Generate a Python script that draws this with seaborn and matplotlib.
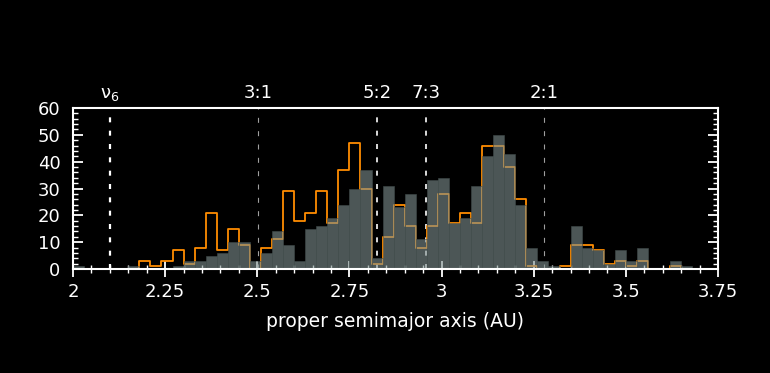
import numpy as np
import pandas as pd
import matplotlib
matplotlib.use("Agg")
import matplotlib.pyplot as plt
import matplotlib.transforms as mtransforms
import seaborn as sns
from matplotlib.ticker import MultipleLocator, FixedLocator, FixedFormatter

# ---- data ----
bin_start = 2.0
bin_width = 0.03
grey_counts = [1, 0, 0, 0, 0, 1, 0, 0, 0, 1,
               3, 3, 5, 6, 10, 10, 3, 6, 14, 9,
               3, 15, 16, 19, 24, 30, 37, 4, 31, 23,
               28, 11, 33, 34, 17, 19, 31, 42, 50, 43,
               24, 8, 3, 1, 0, 16, 8, 7, 2, 7,
               3, 8, 0, 0, 3, 1, 0, 0]
orange_counts = [0, 0, 0, 0, 0, 0, 3, 1, 3, 7,
                 2, 8, 21, 7, 15, 9, 0, 8, 11, 29,
                 18, 21, 29, 17, 37, 47, 30, 2, 12, 24,
                 16, 8, 16, 28, 17, 21, 17, 46, 46, 38,
                 26, 1, 0, 0, 1, 9, 9, 7, 2, 3,
                 1, 3, 0, 0, 1, 0, 0, 0]
res_labels = ["$\\mathrm{ν}_{6}$", "3:1", "5:2", "7:3", "2:1"]
res_pos = [2.10, 2.502, 2.825, 2.958, 3.278]
res_color = ["white", "#a0a0a0", "white", "white", "#a0a0a0"]
res_lw = [1.6, 0.8, 1.2, 1.2, 0.8]
x_ticks = [2.0, 2.25, 2.5, 2.75, 3.0, 3.25, 3.5, 3.75]
x_ticklabels = ["2", "2.25", "2.5", "2.75", "3", "3.25", "3.5", "3.75"]
y_ticks = [0, 10, 20, 30, 40, 50, 60]
x_label = "proper semimajor axis (AU)"

sns.set_style("ticks")
plt.rcParams["font.family"] = ["DejaVu Sans"]
plt.rcParams["mathtext.fontset"] = "dejavusans"

n = len(grey_counts)
edges = [float(e) for e in bin_start + bin_width * np.arange(n + 1)]
centers = [e + bin_width / 2 for e in edges[:-1]]
df = pd.DataFrame({"a": centers, "grey": grey_counts, "orange": orange_counts})

fig = plt.figure(figsize=(7.7, 3.73), dpi=100, facecolor="black")
ax = fig.add_axes([73 / 770, 104 / 373, 645 / 770, 161 / 373])
ax.set_facecolor("black")

sns.histplot(data=df, x="a", weights="orange", bins=edges, element="step",
             fill=False, color="#ff8c00", linewidth=1.3, ax=ax, zorder=2)
sns.histplot(data=df, x="a", weights="grey", bins=edges, element="bars",
             fill=True, color="#7f9190", alpha=0.6, edgecolor="#404b4a",
             linewidth=0.4, ax=ax, zorder=3)

for p, c, lw in zip(res_pos, res_color, res_lw):
    ax.axvline(p, color=c, linewidth=lw, linestyle=(0, (3.6 / lw, 6.0 / lw)),
               zorder=1.5)

trans = mtransforms.blended_transform_factory(ax.transData, ax.transAxes)
for p, lab in zip(res_pos, res_labels):
    ax.text(p, 1.062, lab, transform=trans, ha="center", va="baseline",
            color="white", fontsize=13)

ax.set_xlim(2.0, 3.75)
ax.set_ylim(0, 60)
ax.xaxis.set_major_locator(FixedLocator(x_ticks))
ax.xaxis.set_major_formatter(FixedFormatter(x_ticklabels))
ax.xaxis.set_minor_locator(MultipleLocator(0.05))
ax.yaxis.set_major_locator(FixedLocator(y_ticks))
ax.yaxis.set_minor_locator(MultipleLocator(2))

for s in ax.spines.values():
    s.set_visible(True)
    s.set_color("white")
    s.set_linewidth(1.5)
    s.set_zorder(4)

ax.tick_params(axis="x", which="major", direction="inout", length=11, width=1.3,
               colors="white", labelsize=13, pad=4.5, top=False, bottom=True)
ax.tick_params(axis="x", which="minor", direction="inout", length=6, width=1.0,
               colors="white", top=False, bottom=True)
ax.tick_params(axis="y", which="major", direction="in", length=7, width=1.3,
               colors="white", labelsize=13, pad=9, left=True, right=True)
ax.tick_params(axis="y", which="minor", direction="in", length=3.5, width=1.0,
               colors="white", left=True, right=True)

ax.set_xlabel(x_label, color="white", fontsize=13.5, labelpad=8)
ax.set_ylabel("")

fig.savefig("out.png", dpi=100, facecolor="black")
